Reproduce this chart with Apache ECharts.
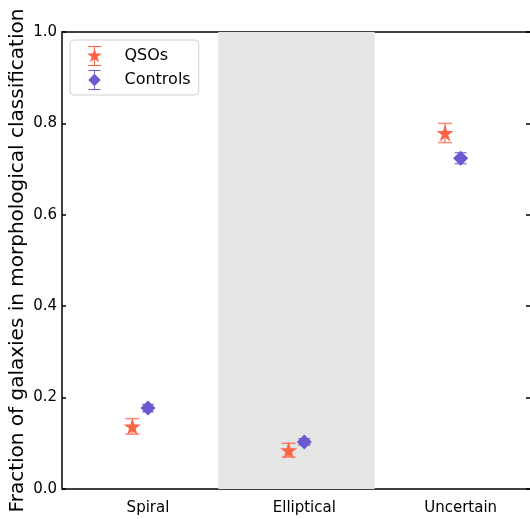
<!DOCTYPE html>
<html>
<head>
<meta charset="utf-8">
<script src="https://cdn.jsdelivr.net/npm/echarts@6/dist/echarts.min.js"></script>
<style>html,body{margin:0;padding:0;background:#fff;}#c{width:530px;height:519px;}</style>
</head>
<body>
<div id="c"></div>
<script>
const categories = ['Spiral', 'Elliptical', 'Uncertain'];
const yTicks = [0.0, 0.2, 0.4, 0.6, 0.8, 1.0];
const qsoValues = [0.137, 0.085, 0.779];
const qsoErrors = [0.017, 0.015, 0.021];
const controlValues = [0.177, 0.103, 0.724];
const controlErrors = [0.008, 0.007, 0.012];
const qsoOffset = -0.1;
const controlOffset = 0.0;
const shadedBand = [0.45, 1.45];

const QSO_COLOR = '#FF6347';
const CTRL_COLOR = '#6A5ACD';
const STAR = 'path://M0,-1 L0.2245,-0.309 L0.951,-0.309 L0.363,0.118 L0.588,0.809 L0,0.382 L-0.588,0.809 L-0.363,0.118 L-0.951,-0.309 L-0.2245,-0.309 Z';
const DIAMOND = 'path://M0,-1 L1,0 L0,1 L-1,0 Z';
const BAR = 'M-0.06,-1.2 L0.06,-1.2 L0.06,1.2 L-0.06,1.2 Z M-0.85,-1.27 L0.85,-1.27 L0.85,-1.15 L-0.85,-1.15 Z M-0.85,1.15 L0.85,1.15 L0.85,1.27 L-0.85,1.27 Z';
const STAR_LEG = 'path://M0,-1 L0.2245,-0.309 L0.951,-0.309 L0.363,0.118 L0.588,0.809 L0,0.382 L-0.588,0.809 L-0.363,0.118 L-0.951,-0.309 L-0.2245,-0.309 Z ' + BAR;
const DIAMOND_LEG = 'path://M0,-0.8 L0.8,0 L0,0.8 L-0.8,0 Z M-0.06,-1.2 L0.06,-1.2 L0.06,1.2 L-0.06,1.2 Z M-0.75,-1.27 L0.75,-1.27 L0.75,-1.15 L-0.75,-1.15 Z M-0.75,1.15 L0.75,1.15 L0.75,1.27 L-0.75,1.27 Z';

function pts(vals, off) { return vals.map((v, i) => [i + off, v]); }
function errPts(vals, errs, off) { return vals.map((v, i) => [i + off, v, errs[i]]); }

function errRender(color, capHalf) {
  return function (params, api) {
    const x = api.value(0), y = api.value(1), e = api.value(2);
    const top = api.coord([x, y + e]);
    const bot = api.coord([x, y - e]);
    const st = { stroke: color, lineWidth: 1.5, opacity: 0.75 };
    return {
      type: 'group',
      children: [
        { type: 'line', shape: { x1: top[0], y1: top[1], x2: bot[0], y2: bot[1] }, style: st },
        { type: 'line', shape: { x1: top[0] - capHalf, y1: top[1], x2: top[0] + capHalf, y2: top[1] }, style: st },
        { type: 'line', shape: { x1: bot[0] - capHalf, y1: bot[1], x2: bot[0] + capHalf, y2: bot[1] }, style: st }
      ]
    };
  };
}

const chart = echarts.init(document.getElementById('c'), null, { renderer: 'canvas' });
const FONT = 'DejaVu Sans';
chart.setOption({
  animation: false,
  textStyle: { fontFamily: FONT },
  grid: { left: 62, top: 32, right: -1, bottom: 30, outerBoundsMode: 'none', containLabel: false, show: true, borderColor: '#000', borderWidth: 1.5, backgroundColor: 'transparent' },
  legend: {
    data: [{ name: 'QSOs', icon: STAR_LEG }, { name: 'Controls', icon: DIAMOND_LEG }],
    orient: 'vertical', left: 70, top: 40,
    itemWidth: 16, itemHeight: 20, itemGap: 4,
    padding: [6, 8, 5, 17],
    borderColor: '#d0d0d0', borderWidth: 1, borderRadius: 4, backgroundColor: '#fff',
    textStyle: { fontSize: 16, color: '#000', fontFamily: FONT, padding: [0, 0, 0, 17] }
  },
  xAxis: {
    type: 'value', min: -0.55, max: 2.45,
    axisLine: { show: false },
    axisTick: { show: false },
    splitLine: { show: false },
    axisLabel: {
      customValues: [0, 1, 2],
      formatter: v => categories[Math.round(v)],
      fontSize: 15, color: '#000', margin: 12, fontFamily: FONT
    }
  },
  yAxis: [{
    type: 'value', min: 0, max: 1, interval: 0.2, position: 'left',
    name: 'Fraction of galaxies in morphological classification',
    nameLocation: 'middle', nameGap: 34, nameRotate: 90, nameMoveOverlap: false,
    nameTextStyle: { fontSize: 20, color: '#000', fontFamily: FONT },
    axisLine: { show: false, onZero: false },
    axisTick: { show: true, inside: true, length: 4, lineStyle: { color: '#000', width: 1.5 } },
    splitLine: { show: false },
    axisLabel: { fontSize: 15, color: '#000', margin: 5, fontFamily: FONT, formatter: v => yTicks.includes(+v.toFixed(1)) ? v.toFixed(1) : '' }
  }, {
    type: 'value', min: 0, max: 1, interval: 0.2, position: 'right',
    axisLine: { show: false, onZero: false },
    axisTick: { show: true, inside: true, length: 5, lineStyle: { color: '#000', width: 1.5 } },
    splitLine: { show: false },
    axisLabel: { show: false }
  }],
  series: [
    {
      name: 'band', type: 'scatter', data: [], silent: true,
      markArea: { silent: true, itemStyle: { color: '#e5e5e5' }, data: [[{ xAxis: shadedBand[0] }, { xAxis: shadedBand[1] }]] }
    },
    { name: 'QSOs err', type: 'custom', data: errPts(qsoValues, qsoErrors, qsoOffset), renderItem: errRender(QSO_COLOR, 7), z: 3 },
    { name: 'Controls err', type: 'custom', data: errPts(controlValues, controlErrors, controlOffset), renderItem: errRender(CTRL_COLOR, 6), z: 3 },
    { name: 'QSOs', type: 'scatter', data: pts(qsoValues, qsoOffset), symbol: STAR, symbolSize: 17, itemStyle: { color: QSO_COLOR, opacity: 1 }, z: 4 },
    { name: 'Controls', type: 'scatter', data: pts(controlValues, controlOffset), symbol: DIAMOND, symbolSize: 15, itemStyle: { color: CTRL_COLOR, opacity: 1 }, z: 4 }
  ]
});
</script>
</body>
</html>
